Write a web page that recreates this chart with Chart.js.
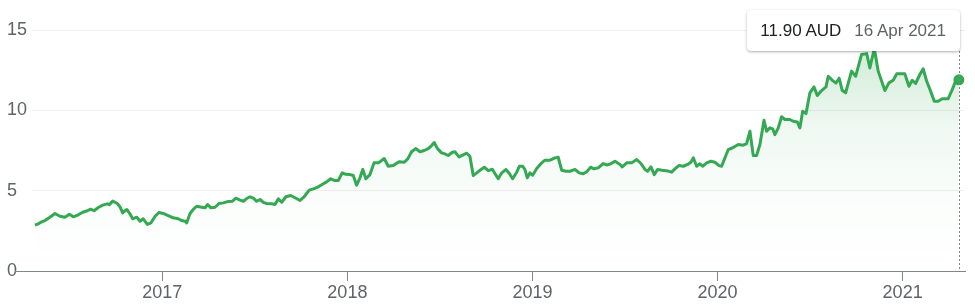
<!DOCTYPE html>
<html>
<head>
<meta charset="utf-8">
<script src="https://cdn.jsdelivr.net/npm/chart.js@4.4.1/dist/chart.umd.min.js"></script>
<style>
  body { margin: 0; background: #fff; }
  #wrap { position: relative; width: 975px; height: 305px; }
  #tip {
    position: absolute; top: 10px; height: 41px; line-height: 41px;
    padding: 0 14px 0 13px; background: #fff; border-radius: 4px;
    box-shadow: 0 1px 3px rgba(60, 64, 67, 0.3), 0 1px 2px rgba(60, 64, 67, 0.15);
    font-family: Arial, "Liberation Sans", sans-serif; font-size: 17px; white-space: nowrap;
  }
  #tip .price { color: #202124; margin-right: 13px; }
  #tip .date { color: #5f6368; }
</style>
</head>
<body>
<div id="wrap">
  <canvas id="chart"></canvas>
  <div id="tip"><span class="price"></span><span class="date"></span></div>
</div>
<script>
// time as decimal years, price in AUD
const years = [
  2016.312, 2016.330, 2016.348, 2016.366, 2016.393, 2016.420, 2016.447, 2016.474, 2016.498, 2016.519,
  2016.546, 2016.570, 2016.595, 2016.613, 2016.631, 2016.654, 2016.678, 2016.703, 2016.714, 2016.732,
  2016.757, 2016.771, 2016.786, 2016.808, 2016.825, 2016.840, 2016.862, 2016.880, 2016.897, 2016.919,
  2016.939, 2016.961, 2016.982, 2017.005, 2017.032, 2017.059, 2017.086, 2017.105, 2017.123, 2017.132,
  2017.150, 2017.167, 2017.186, 2017.213, 2017.231, 2017.245, 2017.263, 2017.285, 2017.306, 2017.330,
  2017.353, 2017.378, 2017.397, 2017.420, 2017.438, 2017.456, 2017.474, 2017.492, 2017.510, 2017.528,
  2017.546, 2017.564, 2017.591, 2017.609, 2017.627, 2017.645, 2017.668, 2017.694, 2017.722, 2017.744,
  2017.766, 2017.794, 2017.820, 2017.843, 2017.870, 2017.888, 2017.910, 2017.933, 2017.951, 2017.972,
  2017.992, 2018.014, 2018.032, 2018.050, 2018.068, 2018.083, 2018.100, 2018.122, 2018.144, 2018.167,
  2018.176, 2018.199, 2018.221, 2018.248, 2018.279, 2018.307, 2018.326, 2018.347, 2018.369, 2018.392,
  2018.415, 2018.437, 2018.455, 2018.469, 2018.488, 2018.509, 2018.527, 2018.545, 2018.567, 2018.581,
  2018.603, 2018.626, 2018.645, 2018.662, 2018.680, 2018.699, 2018.722, 2018.740, 2018.761, 2018.783,
  2018.815, 2018.834, 2018.857, 2018.875, 2018.893, 2018.915, 2018.929, 2018.947, 2018.959, 2018.972,
  2018.986, 2019.001, 2019.023, 2019.050, 2019.068, 2019.095, 2019.122, 2019.139, 2019.158, 2019.181,
  2019.203, 2019.230, 2019.253, 2019.274, 2019.293, 2019.314, 2019.332, 2019.355, 2019.383, 2019.401,
  2019.419, 2019.446, 2019.473, 2019.485, 2019.509, 2019.536, 2019.563, 2019.586, 2019.608, 2019.622,
  2019.640, 2019.658, 2019.676, 2019.701, 2019.730, 2019.752, 2019.774, 2019.791, 2019.815, 2019.838,
  2019.856, 2019.869, 2019.887, 2019.905, 2019.919, 2019.941, 2019.964, 2019.986, 2020.008, 2020.022,
  2020.040, 2020.058, 2020.082, 2020.112, 2020.139, 2020.157, 2020.175, 2020.193, 2020.211, 2020.229,
  2020.251, 2020.265, 2020.283, 2020.298, 2020.310, 2020.328, 2020.346, 2020.364, 2020.391, 2020.409,
  2020.431, 2020.445, 2020.460, 2020.478, 2020.499, 2020.521, 2020.539, 2020.562, 2020.586, 2020.598,
  2020.622, 2020.640, 2020.657, 2020.674, 2020.692, 2020.724, 2020.746, 2020.778, 2020.806, 2020.823,
  2020.847, 2020.868, 2020.904, 2020.926, 2020.949, 2020.968, 2020.991, 2021.012, 2021.034, 2021.052,
  2021.070, 2021.093, 2021.111, 2021.130, 2021.148, 2021.171, 2021.192, 2021.214, 2021.246, 2021.268,
  2021.286, 2021.304
];
const prices = [
  2.85, 2.94, 3.06, 3.14, 3.35, 3.58, 3.41, 3.35, 3.53, 3.37,
  3.50, 3.66, 3.75, 3.85, 3.75, 3.95, 4.10, 4.18, 4.13, 4.35,
  4.20, 4.00, 3.62, 3.83, 3.56, 3.25, 3.35, 3.10, 3.25, 2.90,
  3.00, 3.41, 3.64, 3.58, 3.45, 3.31, 3.25, 3.14, 3.10, 3.00,
  3.58, 3.83, 4.03, 3.97, 3.93, 4.14, 3.93, 3.97, 4.20, 4.24,
  4.32, 4.34, 4.53, 4.41, 4.34, 4.51, 4.62, 4.53, 4.34, 4.45,
  4.27, 4.20, 4.18, 4.14, 4.49, 4.28, 4.62, 4.70, 4.53, 4.39,
  4.62, 5.03, 5.13, 5.24, 5.43, 5.55, 5.74, 5.63, 5.63, 6.11,
  6.02, 6.00, 5.94, 5.34, 5.80, 6.32, 5.74, 6.00, 6.73, 6.73,
  6.80, 7.00, 6.52, 6.56, 6.80, 6.77, 6.98, 7.42, 7.62, 7.42,
  7.50, 7.62, 7.81, 8.00, 7.60, 7.35, 7.29, 7.19, 7.39, 7.42,
  7.10, 7.23, 7.33, 7.14, 5.94, 6.11, 6.32, 6.46, 6.25, 6.33,
  5.74, 6.11, 6.32, 6.07, 5.74, 6.15, 6.52, 6.52, 6.32, 5.80,
  6.11, 5.96, 6.38, 6.73, 6.90, 6.90, 7.04, 7.08, 6.27, 6.21,
  6.21, 6.32, 6.11, 6.05, 6.17, 6.46, 6.36, 6.42, 6.69, 6.60,
  6.65, 6.83, 6.63, 6.48, 6.73, 6.73, 6.94, 6.69, 6.32, 6.21,
  6.48, 6.00, 6.32, 6.27, 6.23, 6.15, 6.40, 6.56, 6.52, 6.63,
  6.77, 7.04, 6.52, 6.67, 6.52, 6.73, 6.83, 6.77, 6.56, 6.52,
  7.04, 7.56, 7.67, 7.87, 7.83, 7.93, 8.70, 7.19, 7.19, 7.87,
  9.38, 8.70, 8.91, 8.85, 8.49, 8.91, 9.60, 9.43, 9.43, 9.32,
  9.28, 8.91, 9.94, 9.80, 11.09, 11.46, 10.92, 11.23, 11.46, 12.12,
  11.85, 11.70, 12.00, 11.23, 11.09, 12.44, 12.12, 13.47, 13.53, 12.64,
  13.85, 12.44, 11.23, 11.71, 11.87, 12.27, 12.27, 12.27, 11.50, 11.87,
  11.67, 12.23, 12.58, 11.81, 11.29, 10.57, 10.57, 10.72, 10.72, 11.29,
  11.81, 11.90
];
const yearTicks = [2017, 2018, 2019, 2020, 2021];
const priceTicks = [0, 5, 10, 15];
const currency = 'AUD';
const lastDateLabel = '16 Apr 2021';

const green = '#34a853';
const lastIndex = prices.length - 1;

const fillGradient = (context) => {
    const area = context.chart.chartArea;
    if (!area) return 'rgba(52, 168, 83, 0.1)';
    const g = context.chart.ctx.createLinearGradient(0, area.top, 0, area.bottom);
    g.addColorStop(0, 'rgba(52, 168, 83, 0.26)');
    g.addColorStop(0.4, 'rgba(52, 168, 83, 0.08)');
    g.addColorStop(0.7, 'rgba(52, 168, 83, 0.025)');
    g.addColorStop(1, 'rgba(52, 168, 83, 0)');
    return g;
};

// baseline stub left of the plot, and the dotted marker line under the tooltip
const extrasPlugin = {
    id: 'extras',
    afterDraw(chart) {
        const { ctx, chartArea } = chart;
        const y = Math.round(chartArea.bottom) + 0.5;
        ctx.save();
        ctx.strokeStyle = '#80868b';
        ctx.lineWidth = 1;
        ctx.beginPath();
        ctx.moveTo(15, y);
        ctx.lineTo(chartArea.left, y);
        ctx.stroke();

        const pt = chart.getDatasetMeta(0).data[lastIndex];
        const x = Math.round(pt.x) + 0.5;
        ctx.setLineDash([2, 2]);
        ctx.beginPath();
        ctx.moveTo(x, 51);
        ctx.lineTo(x, chartArea.bottom);
        ctx.stroke();
        ctx.restore();

        const tip = document.getElementById('tip');
        tip.querySelector('.price').textContent = prices[lastIndex].toFixed(2) + ' ' + currency;
        tip.querySelector('.date').textContent = lastDateLabel;
        tip.style.right = (975 - Math.round(pt.x) - 1) + 'px';
    }
};

const axisFont = { family: 'Arial, "Liberation Sans", sans-serif', size: 18 };

new Chart(document.getElementById('chart'), {
    type: 'line',
    data: {
        datasets: [{
            data: years.map((yr, i) => ({ x: yr, y: prices[i] })),
            borderColor: green,
            borderWidth: 3,
            borderJoinStyle: 'round',
            backgroundColor: fillGradient,
            fill: 'origin',
            tension: 0,
            pointRadius: (c) => (c.dataIndex === lastIndex ? 5.5 : 0),
            pointBackgroundColor: green,
            pointBorderWidth: 0,
        }],
    },
    options: {
        responsive: true,
        maintainAspectRatio: false,
        animation: false,
        events: [],
        layout: { padding: { top: 30, right: 10, left: 7, bottom: 0 } },
        plugins: { legend: { display: false }, tooltip: { enabled: false } },
        scales: {
            x: {
                type: 'linear',
                min: 2016.296,
                max: 2021.337,
                afterBuildTicks: (s) => { s.ticks = yearTicks.map((v) => ({ value: v })); },
                afterFit: (s) => { s.height = 34; },
                grid: { drawOnChartArea: false, drawTicks: true, tickLength: 10, color: '#80868b' },
                border: { color: '#80868b', width: 1 },
                ticks: { color: '#5f6368', font: axisFont, padding: 1, maxRotation: 0, callback: (v) => String(v) },
            },
            y: {
                min: 0,
                max: 15,
                afterBuildTicks: (s) => { s.ticks = priceTicks.map((v) => ({ value: v })); },
                afterFit: (s) => { s.width = 25; },
                grid: {
                    drawTicks: false,
                    color: (c) => (c.tick && c.tick.value === 0 ? 'rgba(0,0,0,0)' : '#efefef'),
                },
                border: { display: false },
                ticks: { color: '#5f6368', font: axisFont, crossAlign: 'far', padding: 0 },
            },
        },
    },
    plugins: [extrasPlugin],
});
</script>
</body>
</html>
